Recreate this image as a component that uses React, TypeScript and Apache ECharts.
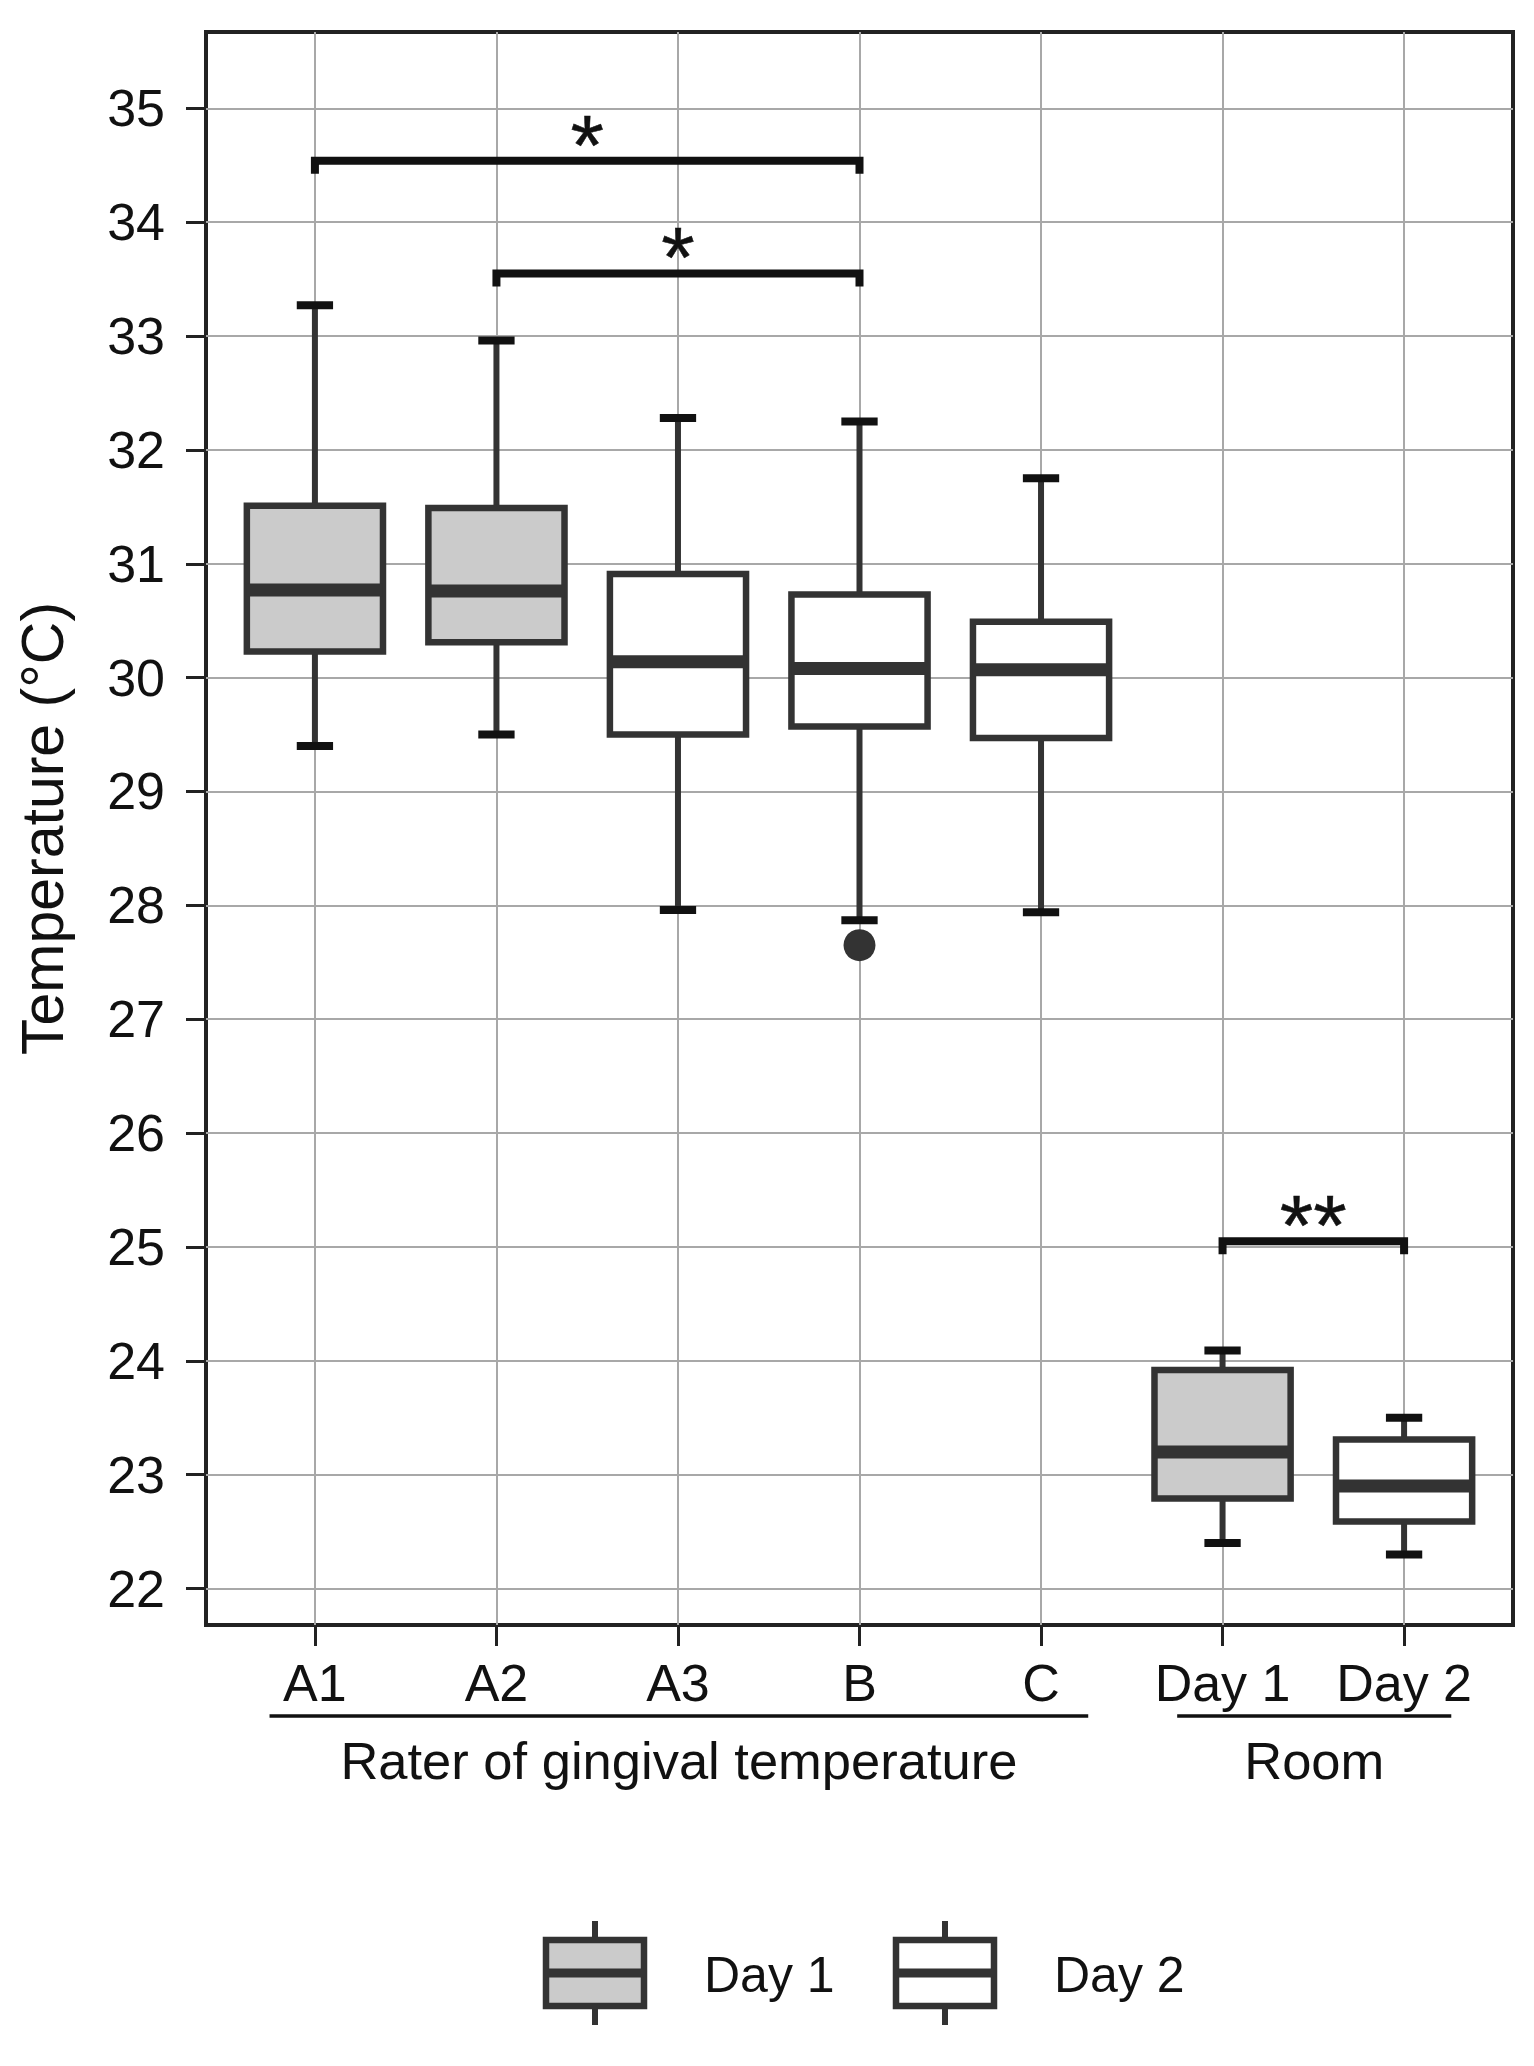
import React, { useEffect, useRef } from "react";
import * as echarts from "echarts";

const FONT = '"Liberation Sans", Arial, Helvetica, sans-serif';

// Categories on the x axis (positions 1..7)
const categories = ["A1", "A2", "A3", "B", "C", "Day 1", "Day 2"];
const dayOfBox = ["Day 1", "Day 1", "Day 2", "Day 2", "Day 2", "Day 1", "Day 2"];

// Box statistics (°C)
const whiskerLow = [29.4, 29.5, 27.96, 27.87, 27.94, 22.4, 22.3];
const quartile1 = [30.23, 30.31, 29.5, 29.57, 29.47, 22.79, 22.59];
const medians = [30.77, 30.76, 30.14, 30.08, 30.07, 23.2, 22.9];
const quartile3 = [31.51, 31.49, 30.91, 30.73, 30.49, 23.92, 23.31];
const whiskerHigh = [33.27, 32.96, 32.28, 32.25, 31.75, 24.09, 23.5];

// Outliers: [x position, value]
const outlierX = [4];
const outlierY = [27.65];

// Significance brackets
const bracketFrom = [1, 2, 6];
const bracketTo = [4, 4, 7];
const bracketY = [34.54, 33.55, 25.05];
const bracketLabel = ["*", "*", "**"];

// Category groups under the axis
const groupFrom = [1, 6];
const groupTo = [5, 7];
const groupLabel = ["Rater of gingival temperature", "Room"];

// Axis ticks
const yTicks = [22, 23, 24, 25, 26, 27, 28, 29, 30, 31, 32, 33, 34, 35];
const xTicks = [1, 2, 3, 4, 5, 6, 7];
const Y_MIN = 21.68;
const Y_MAX = 35.67;
const X_MIN = 0.4;
const X_MAX = 7.6;

const legendNames = ["Day 1", "Day 2"];
const dayFill: Record<string, string> = { "Day 1": "#cbcbcb", "Day 2": "#ffffff" };

const BOX_STROKE = "#333333";
const INK = "#111111";

function makeBoxRenderer(fill: string) {
  return (params: any, api: any) => {
    const x = api.value(0);
    const lo = api.coord([x, api.value(1)]);
    const b1 = api.coord([x, api.value(2)]);
    const md = api.coord([x, api.value(3)]);
    const b3 = api.coord([x, api.value(4)]);
    const hi = api.coord([x, api.value(5)]);
    const half = api.size([0.75, 0])[0] / 2;
    const cap = api.size([0.2, 0])[0] / 2;
    const cx = lo[0];
    return {
      type: "group",
      children: [
        { type: "line", shape: { x1: cx, y1: hi[1], x2: cx, y2: b3[1] }, style: { stroke: BOX_STROKE, lineWidth: 6 } },
        { type: "line", shape: { x1: cx, y1: b1[1], x2: cx, y2: lo[1] }, style: { stroke: BOX_STROKE, lineWidth: 6 } },
        { type: "line", shape: { x1: cx - cap, y1: hi[1], x2: cx + cap, y2: hi[1] }, style: { stroke: INK, lineWidth: 8 } },
        { type: "line", shape: { x1: cx - cap, y1: lo[1], x2: cx + cap, y2: lo[1] }, style: { stroke: INK, lineWidth: 8 } },
        {
          type: "rect",
          shape: { x: cx - half, y: b3[1], width: 2 * half, height: b1[1] - b3[1] },
          style: { fill, stroke: BOX_STROKE, lineWidth: 6.5 },
        },
        { type: "line", shape: { x1: cx - half, y1: md[1], x2: cx + half, y2: md[1] }, style: { stroke: BOX_STROKE, lineWidth: 13 } },
      ],
    };
  };
}

function legendKey(cx: number, fill: string) {
  const top = 1940;
  const h = 66;
  const w = 98;
  return [
    { type: "line", shape: { x1: cx, y1: 1921, x2: cx, y2: top }, style: { stroke: BOX_STROKE, lineWidth: 6 } },
    { type: "line", shape: { x1: cx, y1: top + h, x2: cx, y2: 2025 }, style: { stroke: BOX_STROKE, lineWidth: 6 } },
    { type: "rect", shape: { x: cx - w / 2, y: top, width: w, height: h }, style: { fill, stroke: BOX_STROKE, lineWidth: 6.5 } },
    { type: "line", shape: { x1: cx - w / 2, y1: 1973, x2: cx + w / 2, y2: 1973 }, style: { stroke: BOX_STROKE, lineWidth: 9 } },
  ];
}

export default function App() {
  const ref = useRef<HTMLDivElement>(null);

  useEffect(() => {
    document.body.style.margin = "0";
    if (!ref.current) return;
    const chart = echarts.init(ref.current, undefined, { renderer: "svg" });

    const boxSeries = legendNames.map((day) => ({
      name: day,
      type: "custom",
      clip: false,
      z: 2,
      renderItem: makeBoxRenderer(dayFill[day]),
      encode: { x: 0, y: [1, 2, 3, 4, 5] },
      data: categories
        .map((c, i) => ({ c, i }))
        .filter(({ i }) => dayOfBox[i] === day)
        .map(({ i }) => [i + 1, whiskerLow[i], quartile1[i], medians[i], quartile3[i], whiskerHigh[i]]),
    }));

    const legendX = [595, 945];
    const legendTextX = [704, 1054];
    const legendGraphics: any[] = [];
    legendNames.forEach((n, i) => {
      legendGraphics.push(...legendKey(legendX[i], dayFill[n]));
      legendGraphics.push({
        type: "text",
        x: legendTextX[i],
        y: 1975,
        style: { text: n, fontSize: 50, fontFamily: FONT, fill: INK, align: "left", verticalAlign: "middle" },
      });
    });

    chart.setOption({
      animation: false,
      backgroundColor: "#ffffff",
      textStyle: { fontFamily: FONT },
      grid: {
        left: 206,
        right: 21,
        top: 32,
        bottom: 441,
        show: true,
        backgroundColor: "#ffffff",
        borderColor: "#222222",
        borderWidth: 4,
        containLabel: false,
      },
      xAxis: {
        type: "value",
        min: X_MIN,
        max: X_MAX,
        axisLine: { show: false },
        axisTick: { show: true, customValues: xTicks, length: 21, lineStyle: { color: "#222", width: 3 } },
        axisLabel: {
          customValues: xTicks,
          formatter: (v: number) => categories[Math.round(v) - 1] ?? "",
          fontSize: 52,
          color: INK,
          margin: 32,
          fontFamily: FONT,
        },
        splitLine: { show: true, lineStyle: { color: "#a8a8a8", width: 2 } },
      },
      yAxis: {
        type: "value",
        min: Y_MIN,
        max: Y_MAX,
        name: "Temperature (°C)",
        nameLocation: "middle",
        nameRotate: 90,
        nameGap: 134,
        nameTextStyle: { fontSize: 59, color: INK, fontFamily: FONT },
        axisLine: { show: false },
        axisTick: { show: true, customValues: yTicks, length: 20, lineStyle: { color: "#222", width: 3 } },
        axisLabel: { customValues: yTicks, fontSize: 52, color: INK, margin: 41, fontFamily: FONT },
        splitLine: { show: true, lineStyle: { color: "#a8a8a8", width: 2 } },
      },
      series: [
        ...boxSeries,
        {
          name: "Outliers",
          type: "scatter",
          z: 3,
          symbol: "circle",
          symbolSize: 32,
          itemStyle: { color: BOX_STROKE, opacity: 1 },
          data: outlierX.map((x, i) => [x, outlierY[i]]),
        },
        {
          name: "Significance",
          type: "custom",
          clip: false,
          z: 4,
          encode: { x: [0, 1], y: 2 },
          data: bracketFrom.map((f, i) => [f, bracketTo[i], bracketY[i]]),
          renderItem: (params: any, api: any) => {
            const p1 = api.coord([api.value(0), api.value(2)]);
            const p2 = api.coord([api.value(1), api.value(2)]);
            return {
              type: "group",
              children: [
                {
                  type: "polyline",
                  shape: { points: [[p1[0], p1[1] + 13], [p1[0], p1[1]], [p2[0], p2[1]], [p2[0], p2[1] + 13]] },
                  style: { stroke: INK, lineWidth: 8, fill: "none", lineJoin: "miter" },
                },
                {
                  type: "text",
                  x: (p1[0] + p2[0]) / 2,
                  y: p1[1] - 16,
                  style: {
                    text: bracketLabel[params.dataIndex],
                    fontSize: 86,
                    fontFamily: FONT,
                    fill: INK,
                    stroke: INK,
                    lineWidth: 0.5,
                    align: "center",
                    verticalAlign: "middle",
                  },
                },
              ],
            };
          },
        },
        {
          name: "Groups",
          type: "custom",
          clip: false,
          z: 4,
          encode: { x: [0, 1] },
          data: groupFrom.map((f, i) => [f, groupTo[i]]),
          renderItem: (params: any, api: any) => {
            const a = api.coord([api.value(0) - 0.25, Y_MIN]);
            const b = api.coord([api.value(1) + 0.26, Y_MIN]);
            const base = a[1];
            return {
              type: "group",
              children: [
                { type: "line", shape: { x1: a[0], y1: base + 91, x2: b[0], y2: base + 91 }, style: { stroke: INK, lineWidth: 3.5 } },
                {
                  type: "text",
                  x: (a[0] + b[0]) / 2,
                  y: base + 135,
                  style: {
                    text: groupLabel[params.dataIndex],
                    fontSize: 52.5,
                    fontFamily: FONT,
                    fill: INK,
                    align: "center",
                    verticalAlign: "middle",
                  },
                },
              ],
            };
          },
        },
      ],
      graphic: legendGraphics,
    });

    return () => chart.dispose();
  }, []);

  return <div ref={ref} style={{ width: 1534, height: 2066 }} />;
}
